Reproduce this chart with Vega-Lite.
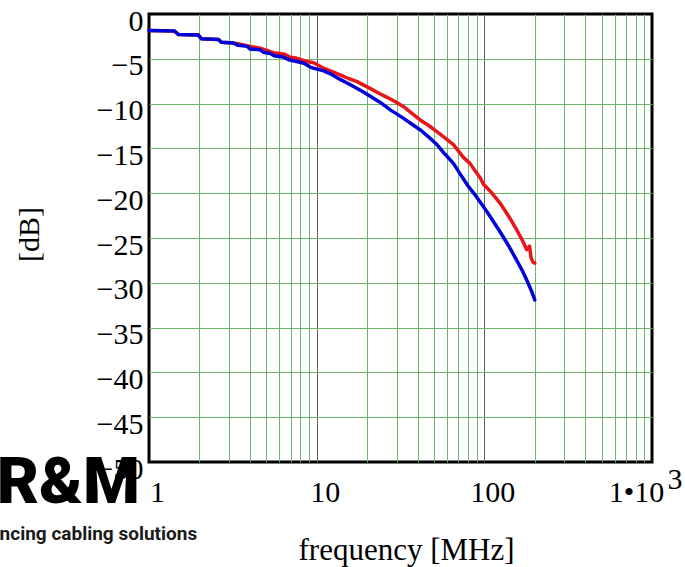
{
  "$schema": "https://vega.github.io/schema/vega-lite/v6.json",
  "autosize": {"type": "none"},
  "width": 503,
  "height": 448,
  "padding": {"left": 149, "top": 14, "right": 33, "bottom": 105},
  "background": "white",
  "config": {"view": {"stroke": "#000000", "strokeWidth": 3}},
  "datasets": {
    "curves": [
      {"s": "blue", "f": 1, "dB": -1.85}, {"s": "blue", "f": 1.42, "dB": -1.9}, {"s": "blue", "f": 1.5, "dB": -2.3}, {"s": "blue", "f": 1.97, "dB": -2.35}, {"s": "blue", "f": 2.05, "dB": -2.75}, {"s": "blue", "f": 2.6, "dB": -2.85}, {"s": "blue", "f": 2.7, "dB": -3.15}, {"s": "blue", "f": 3.2, "dB": -3.25}, {"s": "blue", "f": 3.4, "dB": -3.5}, {"s": "blue", "f": 3.85, "dB": -3.6}, {"s": "blue", "f": 4.0, "dB": -3.9}, {"s": "blue", "f": 4.6, "dB": -4.0}, {"s": "blue", "f": 4.85, "dB": -4.3}, {"s": "blue", "f": 5.3, "dB": -4.4}, {"s": "blue", "f": 5.55, "dB": -4.65}, {"s": "blue", "f": 6.3, "dB": -4.8}, {"s": "blue", "f": 6.8, "dB": -5.1}, {"s": "blue", "f": 7.6, "dB": -5.3}, {"s": "blue", "f": 8.4, "dB": -5.5}, {"s": "blue", "f": 9.2, "dB": -5.95}, {"s": "blue", "f": 10.05, "dB": -6.15}, {"s": "blue", "f": 11, "dB": -6.35}, {"s": "blue", "f": 12, "dB": -6.65}, {"s": "blue", "f": 13.8, "dB": -7.3}, {"s": "blue", "f": 15.9, "dB": -7.9}, {"s": "blue", "f": 19, "dB": -8.7}, {"s": "blue", "f": 21.8, "dB": -9.4}, {"s": "blue", "f": 24.5, "dB": -10.0}, {"s": "blue", "f": 27.5, "dB": -10.7}, {"s": "blue", "f": 33, "dB": -11.65}, {"s": "blue", "f": 37, "dB": -12.3}, {"s": "blue", "f": 41.6, "dB": -12.95}, {"s": "blue", "f": 47, "dB": -13.8}, {"s": "blue", "f": 52.3, "dB": -14.6}, {"s": "blue", "f": 58, "dB": -15.6}, {"s": "blue", "f": 65.6, "dB": -16.7}, {"s": "blue", "f": 72, "dB": -17.9}, {"s": "blue", "f": 80, "dB": -19.2}, {"s": "blue", "f": 89, "dB": -20.3}, {"s": "blue", "f": 98.8, "dB": -21.5}, {"s": "blue", "f": 110, "dB": -22.8}, {"s": "blue", "f": 124, "dB": -24.3}, {"s": "blue", "f": 140, "dB": -25.9}, {"s": "blue", "f": 156, "dB": -27.5}, {"s": "blue", "f": 168, "dB": -28.6}, {"s": "blue", "f": 179, "dB": -29.7}, {"s": "blue", "f": 190, "dB": -30.8}, {"s": "blue", "f": 200, "dB": -31.9},
      {"s": "red", "f": 1, "dB": -1.85}, {"s": "red", "f": 1.42, "dB": -1.9}, {"s": "red", "f": 1.5, "dB": -2.3}, {"s": "red", "f": 1.97, "dB": -2.35}, {"s": "red", "f": 2.05, "dB": -2.75}, {"s": "red", "f": 2.6, "dB": -2.85}, {"s": "red", "f": 2.7, "dB": -3.15}, {"s": "red", "f": 3.2, "dB": -3.25}, {"s": "red", "f": 3.35, "dB": -3.3}, {"s": "red", "f": 4.02, "dB": -3.62}, {"s": "red", "f": 4.6, "dB": -3.82}, {"s": "red", "f": 5.3, "dB": -4.2}, {"s": "red", "f": 5.53, "dB": -4.32}, {"s": "red", "f": 6.35, "dB": -4.45}, {"s": "red", "f": 6.97, "dB": -4.83}, {"s": "red", "f": 7.64, "dB": -4.95}, {"s": "red", "f": 8.76, "dB": -5.3}, {"s": "red", "f": 9.6, "dB": -5.45}, {"s": "red", "f": 11, "dB": -6.05}, {"s": "red", "f": 12.3, "dB": -6.4}, {"s": "red", "f": 13.8, "dB": -6.8}, {"s": "red", "f": 15.5, "dB": -7.2}, {"s": "red", "f": 17.4, "dB": -7.55}, {"s": "red", "f": 20.8, "dB": -8.3}, {"s": "red", "f": 23.5, "dB": -8.85}, {"s": "red", "f": 26.3, "dB": -9.3}, {"s": "red", "f": 29.5, "dB": -9.8}, {"s": "red", "f": 33, "dB": -10.35}, {"s": "red", "f": 37, "dB": -11.1}, {"s": "red", "f": 41.6, "dB": -11.85}, {"s": "red", "f": 47, "dB": -12.5}, {"s": "red", "f": 52.3, "dB": -13.15}, {"s": "red", "f": 58, "dB": -13.8}, {"s": "red", "f": 65.6, "dB": -14.6}, {"s": "red", "f": 75, "dB": -16.0}, {"s": "red", "f": 82.3, "dB": -16.7}, {"s": "red", "f": 88, "dB": -17.5}, {"s": "red", "f": 94.6, "dB": -18.3}, {"s": "red", "f": 98.8, "dB": -19.0}, {"s": "red", "f": 110, "dB": -19.9}, {"s": "red", "f": 124, "dB": -21.1}, {"s": "red", "f": 140, "dB": -22.6}, {"s": "red", "f": 156, "dB": -24.1}, {"s": "red", "f": 168, "dB": -25.2}, {"s": "red", "f": 179, "dB": -26.3}, {"s": "red", "f": 186, "dB": -25.9}, {"s": "red", "f": 190, "dB": -27.2}, {"s": "red", "f": 195, "dB": -27.7}, {"s": "red", "f": 200, "dB": -27.8}
    ]
  },
  "encoding": {
    "x": {
      "field": "f", "type": "quantitative",
      "scale": {"type": "log", "domain": [1, 1000], "nice": false},
      "axis": {
        "title": "frequency [MHz]",
        "titleFont": "Liberation Serif", "titleFontSize": 31, "titleFontWeight": "normal", "titleColor": "#000000",
        "titleBaseline": "top", "titleY": 73.5, "titleX": 257, "titleAlign": "center",
        "values": [1, 2, 3, 4, 5, 6, 7, 8, 9, 10, 20, 30, 40, 50, 60, 70, 80, 90, 100, 200, 300, 400, 500, 600, 700, 800, 900, 1000],
        "labelExpr": "datum.value == 1 ? '1' : datum.value == 10 ? '10' : datum.value == 100 ? '100' : datum.value == 1000 ? '1•10' : ''",
        "labelFont": "Liberation Serif", "labelFontSize": 30, "labelColor": "#000000",
        "labelPadding": 15, "labelBaseline": "top",
        "labelOffset": {"condition": {"test": "datum.value == 1000", "value": -16}, "value": 8},
        "labelOverlap": false, "labelFlush": false, "labelBound": false,
        "ticks": false, "domain": false, "grid": true, "gridWidth": 1,
        "gridColor": {"condition": {"test": "datum.value == 10 || datum.value == 100", "value": "#5f5f5f"}, "value": "#6cb66c"},
        "gridOpacity": {"condition": {"test": "datum.value == 1 || datum.value == 1000", "value": 0}, "value": 1}
      }
    },
    "y": {
      "field": "dB", "type": "quantitative",
      "scale": {"domain": [-50, 0], "nice": false, "zero": false},
      "axis": {
        "title": "[dB]",
        "titleFont": "Liberation Serif", "titleFontSize": 30, "titleFontWeight": "normal", "titleColor": "#000000",
        "titleAngle": -90, "titleBaseline": "alphabetic", "titleAlign": "center", "titleX": -111, "titleY": 220,
        "values": [0, -5, -10, -15, -20, -25, -30, -35, -40, -45, -50],
        "labelExpr": "datum.value == 0 ? '0' : '\u2212' + abs(datum.value)",
        "labelFont": "Liberation Serif", "labelFontSize": 30, "labelColor": "#000000",
        "labelPadding": 6, "labelBaseline": "middle", "labelOffset": 7,
        "labelOverlap": false, "labelFlush": false, "labelBound": false,
        "ticks": false, "domain": false, "grid": true, "gridWidth": 1, "gridColor": "#6cb66c",
        "gridOpacity": {"condition": {"test": "datum.value == 0 || datum.value == -50", "value": 0}, "value": 1}
      }
    }
  },
  "layer": [
    {
      "data": {"name": "curves"},
      "transform": [{"filter": "datum.s == 'red'"}],
      "mark": {"type": "line", "color": "#e8161b", "strokeWidth": 3.5, "strokeJoin": "round", "strokeCap": "round"}
    },
    {
      "data": {"name": "curves"},
      "transform": [{"filter": "datum.s == 'blue'"}],
      "mark": {"type": "line", "color": "#0000d8", "strokeWidth": 3.5, "strokeJoin": "round", "strokeCap": "round"}
    },
    {
      "data": {"values": [{"f": 1000, "dB": -50, "t": "3"}]},
      "mark": {"type": "text", "font": "Liberation Serif", "fontSize": 30, "color": "#000000", "align": "center", "baseline": "alphabetic", "dx": 23, "dy": 27},
      "encoding": {"text": {"field": "t"}}
    },
    {
      "data": {"values": [{"f": 0.1234, "dB": -54.6, "t": "R&M"}]},
      "mark": {"type": "text", "font": "Roboto", "fontWeight": 900, "fontSize": 65, "color": "#000000", "align": "left", "baseline": "alphabetic"},
      "encoding": {"text": {"field": "t"}}
    },
    {
      "data": {"values": [{"f": 0.1285, "dB": -58.7, "t": "ncing cabling solutions"}]},
      "mark": {"type": "text", "font": "Roboto", "fontWeight": "bold", "fontSize": 19, "color": "#1a1a1a", "align": "left", "baseline": "alphabetic"},
      "encoding": {"text": {"field": "t"}}
    }
  ]
}
